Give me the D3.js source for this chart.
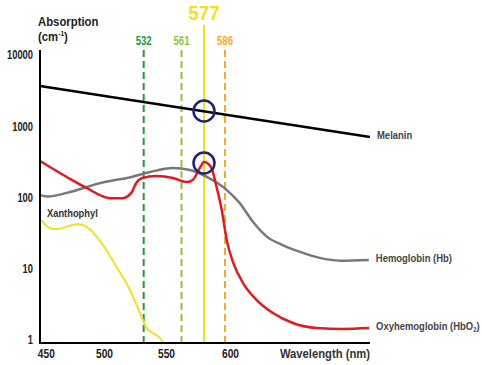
<!DOCTYPE html>
<html>
<head>
<meta charset="utf-8">
<script src="https://cdn.jsdelivr.net/npm/d3@7"></script>
<style>
  html, body { margin: 0; padding: 0; background: #fff; }
  svg { display: block; }
  text { font-family: "Liberation Sans", Arial, sans-serif; font-weight: bold; }
</style>
</head>
<body>
<div id="chart"></div>
<script>
// absorption spectra (nm, 1/cm)
var melaninNm = [445, 717]
var melanin = [3670, 706]

var hbNm = [445, 452, 468, 497, 523, 537, 555, 567, 578, 591, 608, 619, 631, 644, 658, 675, 692, 716]
var hb = [108, 103, 116, 160, 196, 228, 259, 243, 196, 127, 84, 46, 28, 21.5, 17.4, 14.2, 13, 13.3]

var hbo2Nm = [445, 468, 485, 505, 515, 522, 526, 531, 542, 555, 565, 569, 574, 577, 580, 582.4, 584.6, 590.8, 602.8, 610.9, 622.3, 635.9, 652.6, 672.5, 694.4, 716.2]
var hbo2 = [325, 194, 136, 98, 98, 116, 160, 188, 200, 188, 165, 176, 259, 315, 268, 140, 67, 25.3, 12, 6.3, 3.64, 2.39, 1.73, 1.47, 1.43, 1.47]

var xanthoNm = [445, 452, 459, 468, 477.6, 485, 497, 510, 521, 529, 534.4, 539.5, 545, 547.6]
var xantho = [50, 38.5, 36, 39, 42.5, 39, 24, 10.7, 5, 2.4, 1.47, 1.25, 1.07, 0.92]

// laser lines
var laserNm = [532, 561, 577, 586]
var laserColors = ["#239a3a", "#8cc63f", "#f2e21a", "#f7a928"]
var laserDashed = [true, true, false, true]

// the two circled points on the 577 line
var circleNm = [577, 577]
var circleVal = [1640, 305]

var xTicks = [450, 500, 550, 600]
var yTicks = [1, 10, 100, 1000, 10000]

var width = 482, height = 365

var svg = d3.select("#chart").append("svg")
  .attr("width", width)
  .attr("height", height)

// the wavelength axis of the original is not evenly spaced, so knots are used
var x = d3.scaleLinear()
  .domain([445, 500, 550, 577, 586, 600, 717])
  .range([40, 104, 166, 204, 225, 230, 370])

var y = d3.scaleLog()
  .domain([1, 10000])
  .range([340, 55])

var toPoints = function(nm, vals){
  return nm.map(function(n, i){ return [n, vals[i]] })
}

var line = d3.line()
  .x(function(d){ return x(d[0]) })
  .y(function(d){ return y(d[1]) })
  .curve(d3.curveMonotoneX)

// condensed look: squeeze text horizontally around its anchor point
var label = function(px, py, size, squeeze, color){
  return svg.append("text")
    .attr("transform", "translate(" + px + "," + py + ") scale(" + squeeze + ",1)")
    .attr("font-size", size)
    .attr("fill", color)
}

// laser lines
laserNm.forEach(function(nm, i){
  svg.append("line")
    .attr("x1", x(nm)).attr("x2", x(nm))
    .attr("y1", laserDashed[i] ? 50 : 25)
    .attr("y2", 343)
    .attr("stroke", laserColors[i])
    .attr("stroke-width", 2)
    .attr("stroke-dasharray", laserDashed[i] ? "7,4" : null)

  if (laserDashed[i]) {
    label(x(nm), 45, 12, 0.8, laserColors[i])
      .attr("text-anchor", "middle")
      .text(nm)
  } else {
    label(x(nm), 20, 21, 0.9, laserColors[i])
      .attr("text-anchor", "middle")
      .text(nm)
  }
})

// curves
var series = [
  { nm: xanthoNm, vals: xantho, color: "#efe21e", w: 2 },
  { nm: hbNm, vals: hb, color: "#787878", w: 2.5 },
  { nm: hbo2Nm, vals: hbo2, color: "#e3191c", w: 2.5 },
  { nm: melaninNm, vals: melanin, color: "#000", w: 2.5 }
]

series.forEach(function(s){
  svg.append("path")
    .datum(toPoints(s.nm, s.vals))
    .attr("d", line)
    .attr("fill", "none")
    .attr("stroke", s.color)
    .attr("stroke-width", s.w)
})

// circles
circleNm.forEach(function(nm, i){
  svg.append("circle")
    .attr("cx", x(nm)).attr("cy", y(circleVal[i]))
    .attr("r", 10.5)
    .attr("fill", "none")
    .attr("stroke", "#1a237e")
    .attr("stroke-width", 2.5)
})

// series labels at the line ends
var endLabel = function(nm, vals){
  return label(x(nm[nm.length - 1]) + 7, y(vals[vals.length - 1]) + 2, 11, 0.86, "#444")
}
endLabel(melaninNm, melanin).text("Melanin")
endLabel(hbNm, hb).text("Hemoglobin (Hb)")
var ox = endLabel(hbo2Nm, hbo2)
ox.append("tspan").text("Oxyhemoglobin (HbO")
ox.append("tspan").attr("font-size", 7).attr("dy", 2).text("2")
ox.append("tspan").attr("dy", -2).text(")")

label(x(xanthoNm[0]) + 7, y(xantho[0]) - 2, 11, 0.85, "#333").text("Xanthophyl")

// axes
var yAxis = d3.axisLeft(y)
  .tickValues(yTicks)
  .tickFormat(d3.format("d"))
  .tickSize(0)
  .tickPadding(9)

var gy = svg.append("g").attr("transform", "translate(40,0)").call(yAxis)
gy.select(".domain").remove()
gy.attr("font-family", null).attr("font-size", null)
gy.selectAll("text").attr("font-size", 12).attr("fill", "#222")
  .attr("transform", "scale(0.78,1)")

var xAxis = d3.axisBottom(x)
  .tickValues(xTicks)
  .tickFormat(d3.format("d"))
  .tickSize(0)
  .tickPadding(6)

var gx = svg.append("g").attr("transform", "translate(0,343)").call(xAxis)
gx.select(".domain").remove()
gx.attr("font-family", null).attr("font-size", null)
gx.selectAll("text").attr("font-size", 12).attr("fill", "#222")
  .attr("transform", "scale(0.85,1)")

svg.append("line")
  .attr("x1", 40).attr("x2", 40)
  .attr("y1", 50).attr("y2", 344)
  .attr("stroke", "#000").attr("stroke-width", 2)

svg.append("line")
  .attr("x1", 39).attr("x2", x.range()[x.range().length - 1])
  .attr("y1", 343).attr("y2", 343)
  .attr("stroke", "#000").attr("stroke-width", 2)

label(370, 358, 12.5, 0.9, "#333")
  .attr("text-anchor", "end")
  .text("Wavelength (nm)")

label(38, 26, 13.5, 0.84, "#222").text("Absorption")
var yu = label(38, 41, 13.5, 0.84, "#222")
yu.append("tspan").text("(cm")
yu.append("tspan").attr("font-size", 8).attr("dy", -5).text("-1")
yu.append("tspan").attr("dy", 5).text(")")
</script>
</body>
</html>
